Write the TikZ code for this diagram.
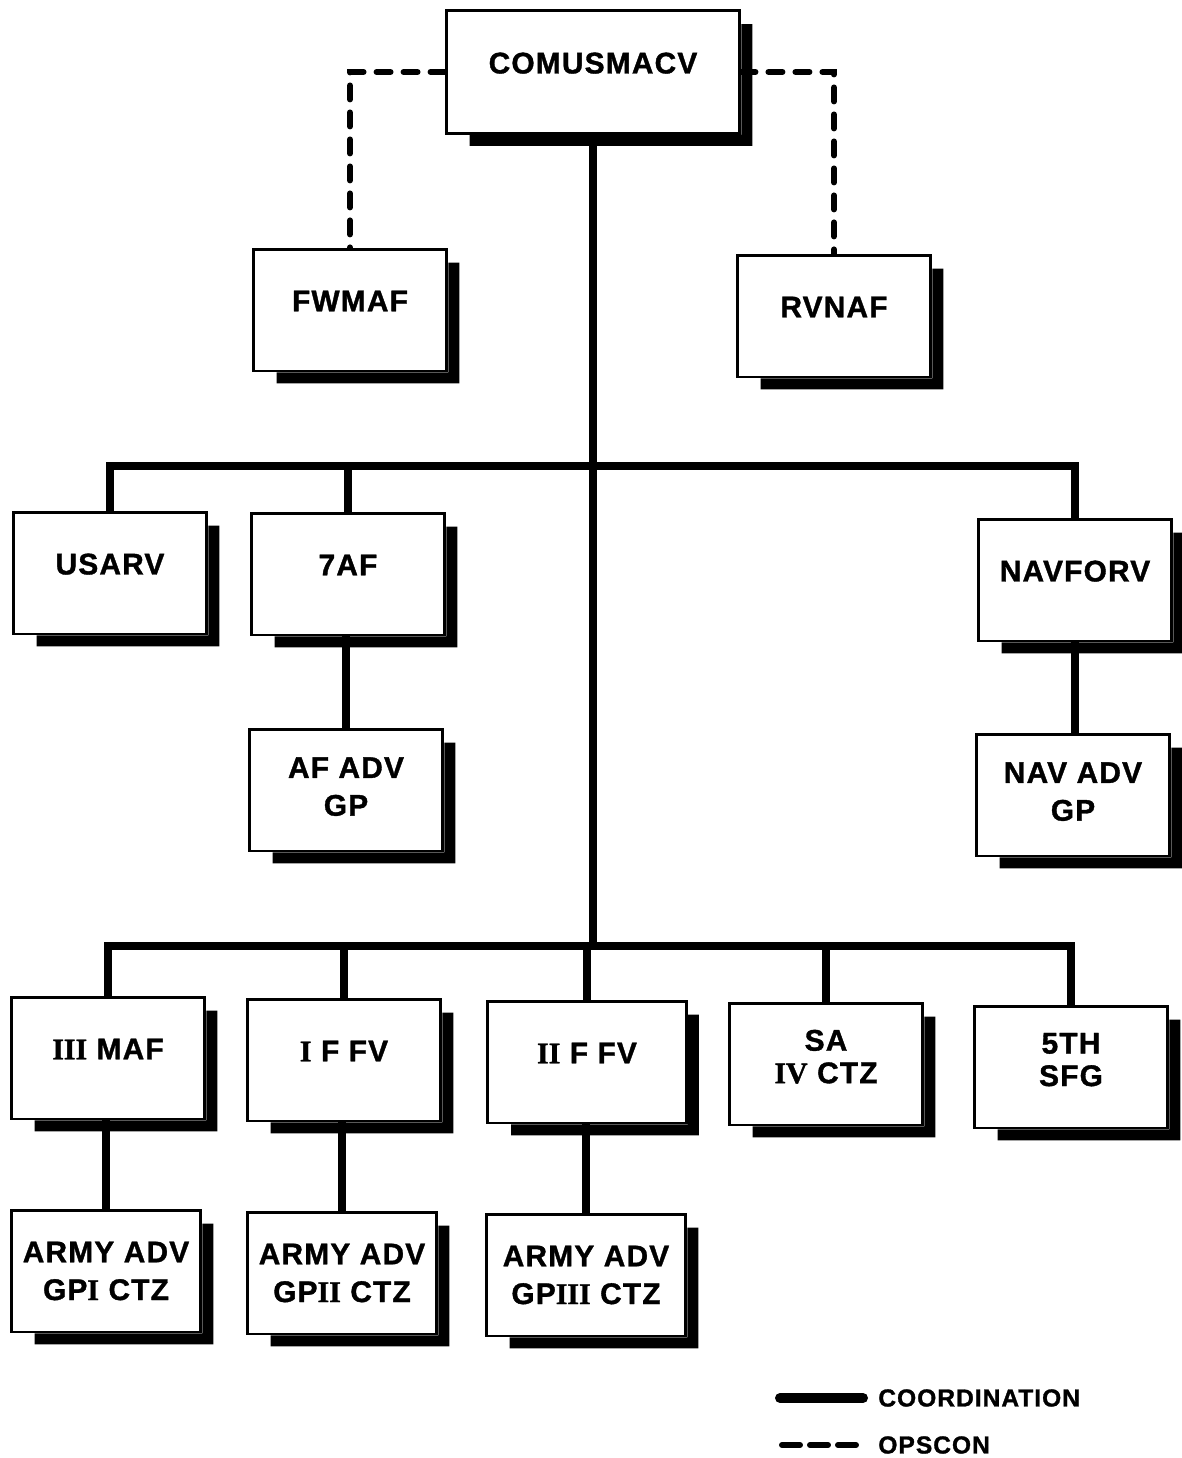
\documentclass[tikz,border=0pt]{standalone}
\usepackage{fontspec}
\setmainfont{Liberation Sans}[LetterSpace=4,BoldFeatures={FakeBold=1.2}]
\newfontfamily\numfont{Liberation Serif}[BoldFeatures={FakeBold=1.2}]
\usetikzlibrary{calc}

% roman numerals are set in a serif face
\newcommand{\rn}[1]{{\numfont\bfseries #1}}
% extra depth to lift a label in its box
\newcommand{\lift}[1]{\rule[-#1]{0pt}{0pt}}

\begin{document}
\begin{tikzpicture}[x=0.02cm,y=-0.02cm,
  unit/.style={draw,line width=1.7pt,fill=white,minimum width=3.88cm,minimum height=2.44cm,
    align=center,inner sep=2pt,font=\fontsize{17}{21.5}\selectfont\bfseries},
  oneline/.style={text depth=0.36cm},
  tight/.style={font=\fontsize{17}{18.5}\selectfont\bfseries},
  coord/.style={line width=4pt},
  opscon/.style={line width=3.4pt,line cap=round,dash pattern=on 0.28cm off 0.26cm},
  legend/.style={inner sep=0.3cm,font=\fontsize{14}{17}\selectfont\bfseries}]
  \useasboundingbox (0,0) rectangle (1182,1458);
  % Command
  \node[unit,oneline,minimum width=5.88cm,minimum height=2.46cm] (comus) at (593,72) {COMUSMACV};
  \node[unit,oneline] (fwmaf) at (350,310) {FWMAF};
  \node[unit,oneline] (rvnaf) at (834,316) {RVNAF};
  % Components
  \node[unit,oneline] (usarv) at (110,573) {USARV};
  \node[unit,oneline] (af7) at (348,574) {7AF};
  \node[unit,oneline] (navforv) at (1075,580) {NAVFORV};
  \node[unit] (afadv) at (346,790) {AF ADV\\GP\lift{0.14cm}};
  \node[unit] (navadv) at (1073,795) {NAV ADV\\GP\lift{0.14cm}};
  % Field forces
  \node[unit,oneline] (iiimaf) at (108,1058) {\rn{III} MAF};
  \node[unit,oneline] (iffv) at (344,1060) {\rn{I} F FV};
  \node[unit,oneline,minimum width=3.98cm] (iiffv) at (587,1062) {\rn{II} F FV};
  \node[unit,tight] (saiv) at (826,1064) {SA\\\rn{IV} CTZ\lift{0.3cm}};
  \node[unit,tight] (sfg) at (1071,1067) {5TH\\SFG\lift{0.3cm}};
  % Advisory groups
  \node[unit,minimum width=3.8cm] (army1) at (106,1271) {ARMY ADV\\GP\rn{I} CTZ};
  \node[unit,minimum width=3.8cm] (army2) at (342,1273) {ARMY ADV\\GP\rn{II} CTZ};
  \node[unit,minimum width=4cm] (army3) at (586,1275) {ARMY ADV\\GP\rn{III} CTZ};
  % Shadows
  \foreach \n in {comus,fwmaf,rvnaf,usarv,af7,navforv,afadv,navadv,iiimaf,iffv,iiffv,saiv,sfg,army1,army2,army3}
    \fill ($(\n.south west)+(25,0)$) rectangle ($(\n.south east)+(11,11)$)
          ($(\n.north east)+(0,15)$) rectangle ($(\n.south east)+(11,11)$);
  % Coordination lines
  \coordinate (bus1) at (590,466);
  \coordinate (bus2) at (590,946);
  \draw[coord] (comus.south) -- (comus.south |- bus2);
  \draw[coord] (usarv.north) |- (bus1) -| (navforv.north);
  \draw[coord] (af7.north) -- (af7.north |- bus1);
  \draw[coord] (iiimaf.north) |- (bus2) -| (sfg.north);
  \foreach \n in {iffv,iiffv,saiv}
    \draw[coord] (\n.north) -- (\n.north |- bus2);
  \draw[coord] (afadv.north) -- (afadv.north |- af7.south);
  \draw[coord] (navforv.south) -- (navforv.south |- navadv.north);
  \draw[coord] (army1.north) -- (army1.north |- iiimaf.south);
  \draw[coord] (army2.north) -- (army2.north |- iffv.south);
  \draw[coord] (army3.north) -- (army3.north |- iiffv.south);
  % OPSCON lines
  \draw[opscon] (comus.west) -| (fwmaf.north);
  \draw[opscon] (comus.east) -| (rvnaf.north);
  % Legend
  \node[legend,anchor=west] (coordtxt) at (863,1398) {COORDINATION};
  \node[legend,anchor=west] (opstxt) at (863,1445) {OPSCON};
  \coordinate (coordend) at (780,1398);
  \coordinate (opsend) at (782,1445);
  \draw[line width=0.2cm,line cap=round] (coordend) -- (coordtxt.west);
  \draw[opscon,dash pattern=on 0.36cm off 0.2cm] (opsend) -- (opstxt.west);
\end{tikzpicture}
\end{document}
